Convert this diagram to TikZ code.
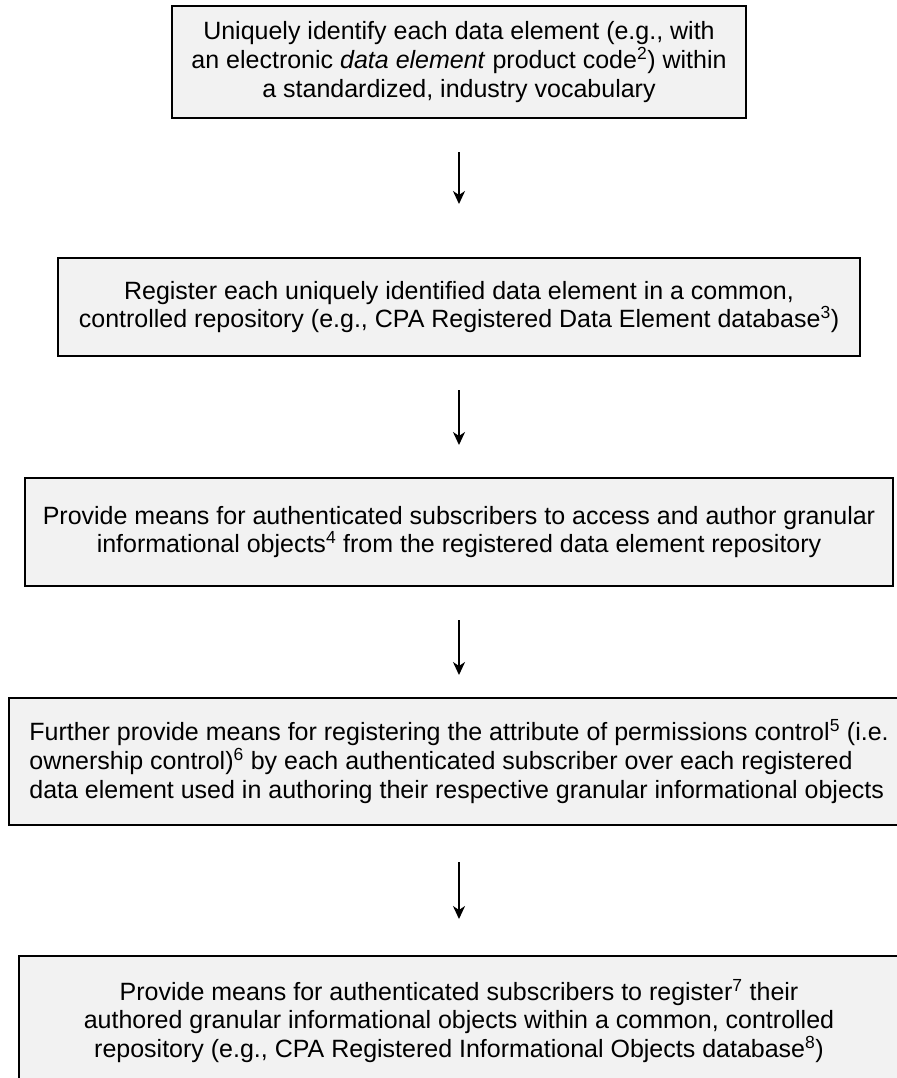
\documentclass[tikz,border=0pt]{standalone}
\usepackage{fontspec}
\setmainfont{Liberation Sans}
\usetikzlibrary{arrows.meta,positioning}

\begin{document}
\begin{tikzpicture}[
    x=1bp, y=1bp,
    every node/.style={font=\fontsize{25bp}{28.75bp}\selectfont},
    box/.style={draw, line width=2bp, fill=black!5, align=center, inner xsep=16bp, inner ysep=0bp},
    flow/.style={-{Stealth[length=13bp,width=12bp,inset=4bp]}, line width=2bp}
]
\useasboundingbox (0,0) rectangle (897,-1078);
\clip (0,0) rectangle (897,-1078);
\node[box, anchor=north, minimum width=573bp, minimum height=112bp] (identify) at (459,-5) {Uniquely identify each data element (e.g., with\\an electronic \textit{data element} product code\textsuperscript{2}) within\\a standardized, industry vocabulary};
\node[box, minimum width=801bp, minimum height=98bp, below=138bp of identify] (register) {Register each uniquely identified data element in a common,\\controlled repository (e.g., CPA Registered Data Element database\textsuperscript{3})};
\node[box, minimum width=868bp, minimum height=108bp, below=120bp of register] (access) {Provide means for authenticated subscribers to access and author granular\\informational objects\textsuperscript{4} from the registered data element repository};
\node[box, align=left, minimum width=900bp, minimum height=127bp, below=110bp of access] (permit) {Further provide means for registering the attribute of permissions control\textsuperscript{5} (i.e.\\ownership control)\textsuperscript{6} by each authenticated subscriber over each registered\\data element used in authoring their respective granular informational objects};
\node[box, minimum width=880bp, minimum height=130bp, below=129bp of permit] (publish) {Provide means for authenticated subscribers to register\textsuperscript{7} their\\authored granular informational objects within a common, controlled\\repository (e.g., CPA Registered Informational Objects database\textsuperscript{8})};
\draw[flow, shorten <=33bp, shorten >=53bp] (identify) -- (register);
\draw[flow, shorten <=33bp, shorten >=32bp] (register) -- (access);
\draw[flow, shorten <=33bp, shorten >=22bp] (access) -- (permit);
\draw[flow, shorten <=36bp, shorten >=36bp] (permit) -- (publish);
\end{tikzpicture}
\end{document}
